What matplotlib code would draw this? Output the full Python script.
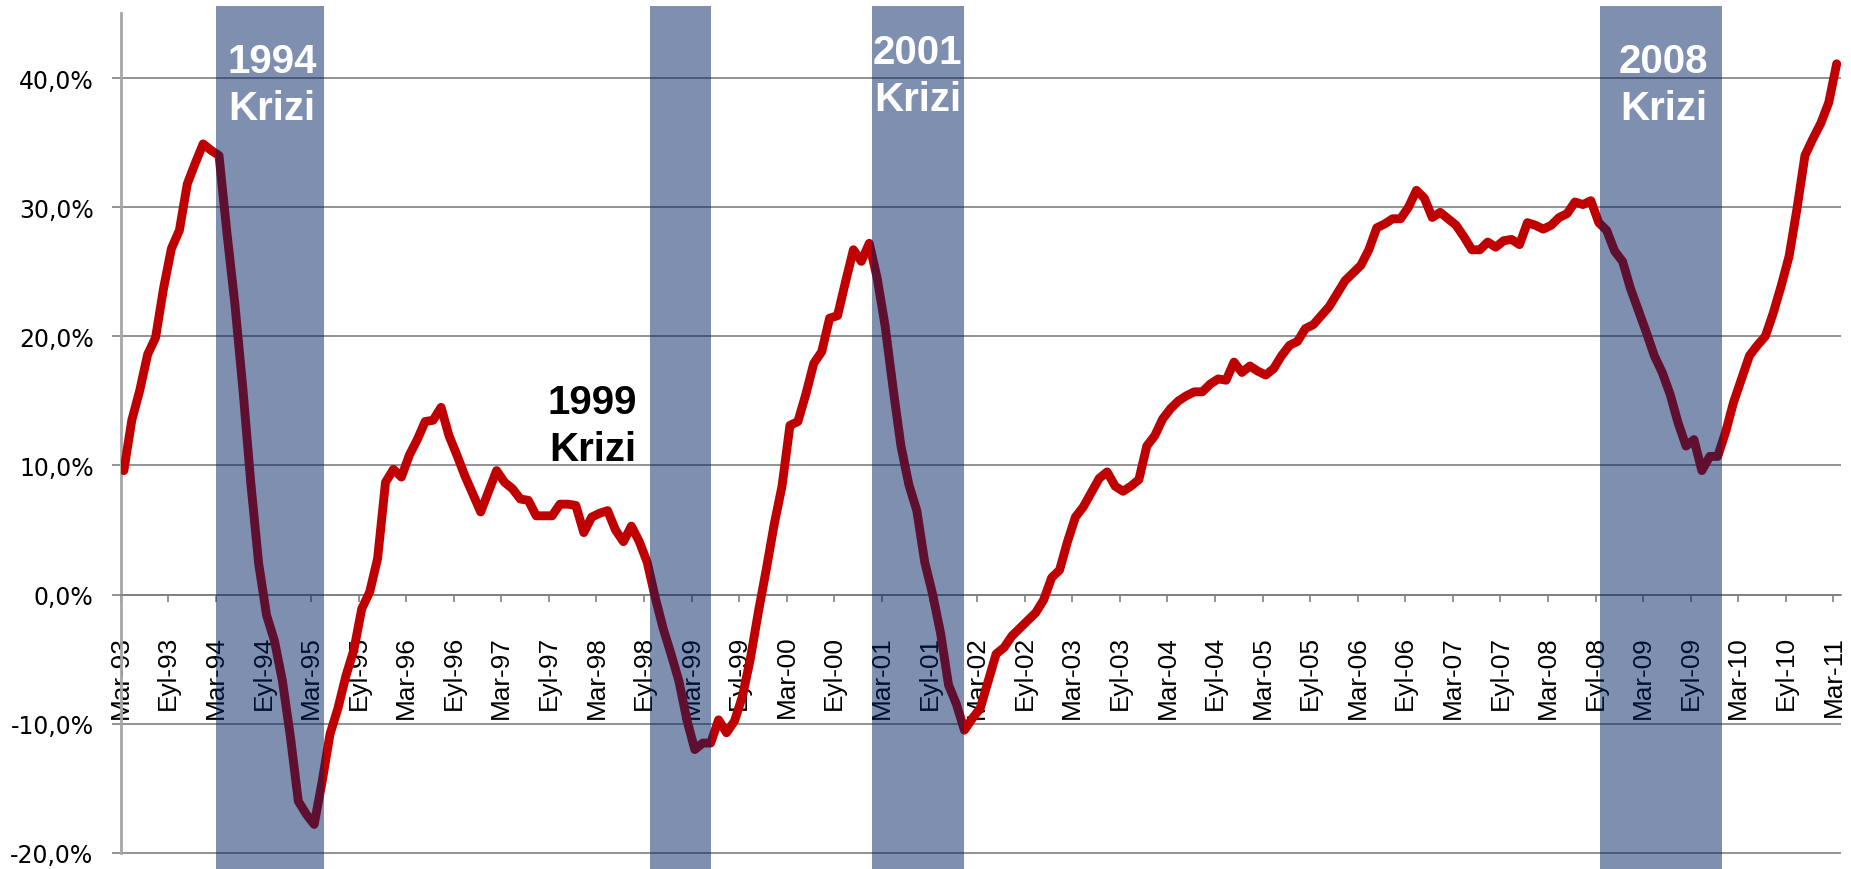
import numpy as np
import matplotlib
matplotlib.use("Agg")
import matplotlib.pyplot as plt
from matplotlib import font_manager
from matplotlib.font_manager import FontProperties
from matplotlib.textpath import TextPath
from matplotlib.ticker import FuncFormatter


# monthly growth (%), Mar-93 .. Mar-11
growth = [
    9.6, 13.5, 15.8, 18.6, 19.9, 23.7, 26.8, 28.2, 31.8, 33.4,
    34.9, 34.4, 34.0, 28.0, 22.5, 16.0, 8.7, 2.4, -1.6, -3.6,
    -6.7, -11.0, -16.0, -17.0, -17.8, -14.5, -10.8, -8.8, -6.3, -4.3,
    -1.1, 0.2, 2.8, 8.7, 9.7, 9.1, 10.8, 12.0, 13.4, 13.5,
    14.5, 12.3, 10.8, 9.2, 7.8, 6.4, 8.0, 9.6, 8.7, 8.2,
    7.4, 7.3, 6.1, 6.1, 6.1, 7.0, 7.0, 6.9, 4.8, 6.0,
    6.3, 6.5, 5.0, 4.1, 5.3, 4.1, 2.5, -0.2, -2.6, -4.6,
    -6.7, -9.7, -12.0, -11.5, -11.5, -9.7, -10.7, -9.8, -7.9, -5.0,
    -1.4, 1.9, 5.4, 8.4, 13.1, 13.4, 15.5, 17.9, 18.8, 21.4,
    21.6, 24.2, 26.7, 25.8, 27.2, 24.5, 20.8, 16.0, 11.5, 8.5,
    6.5, 2.5, 0.0, -3.0, -7.0, -8.5, -10.5, -9.6, -8.8, -6.7,
    -4.6, -4.1, -3.2, -2.6, -2.0, -1.4, -0.4, 1.3, 1.9, 4.1,
    6.0, 6.8, 7.9, 9.0, 9.5, 8.4, 8.0, 8.4, 8.9, 11.5,
    12.3, 13.6, 14.4, 15.0, 15.4, 15.7, 15.7, 16.3, 16.7, 16.6,
    18.0, 17.2, 17.7, 17.3, 17.0, 17.5, 18.5, 19.3, 19.6, 20.6,
    20.9, 21.6, 22.3, 23.3, 24.3, 24.9, 25.5, 26.7, 28.4, 28.7,
    29.1, 29.1, 30.0, 31.3, 30.7, 29.2, 29.6, 29.1, 28.6, 27.7,
    26.7, 26.7, 27.3, 26.9, 27.4, 27.5, 27.1, 28.8, 28.6, 28.3,
    28.6, 29.2, 29.5, 30.4, 30.2, 30.5, 28.8, 28.2, 26.6, 25.8,
    23.7, 22.0, 20.3, 18.5, 17.2, 15.5, 13.3, 11.5, 12.0, 9.6,
    10.7, 10.7, 12.6, 14.9, 16.7, 18.5, 19.3, 20.0, 21.8, 23.9,
    26.2, 29.9, 34.0, 35.3, 36.5, 38.1, 41.1,
]

# tick labels every 6 months (Mar / Eyl)
years = list(range(1993, 2012))
tick_labels = []
for y in years:
    tick_labels.append(f"Mar-{y % 100:02d}")
    if y < 2011:
        tick_labels.append(f"Eyl-{y % 100:02d}")

# crisis periods in months since Mar-93
crisis_names = ["1994\nKrizi", "1999\nKrizi", "2001\nKrizi", "2008\nKrizi"]
crisis_start = [12.0, 66.7, 94.75, 186.5]
crisis_end = [25.6, 74.5, 106.4, 202.0]
crisis_text_color = ["white", "black", "white", "white"]
crisis_text_pos = [(19.1, 42.8), (59.5, 16.4), (100.5, 43.5), (194.6, 42.8)]

names = {f.name for f in font_manager.fontManager.ttflist}
xfont = "Liberation Sans Narrow" if "Liberation Sans Narrow" in names else "Liberation Sans"

# size the x labels so "Mar-93" is about 80 px long, like the reference
tp = TextPath((0, 0), "Mar-93", size=100, prop=FontProperties(family=xfont))
xsize = 100 * 57.6 / tp.get_extents().width

fig = plt.figure(figsize=(18.51, 8.70), dpi=100)
ax = fig.add_axes([0.0652, 0.0, 0.9292, 0.9923])

x = np.arange(len(growth)) + 0.4
ax.plot(x, growth, color="#C00000", lw=6.4, solid_joinstyle="round",
        solid_capstyle="round", zorder=3)

for s, e in zip(crisis_start, crisis_end):
    ax.axvspan(s, e, color="#002060", alpha=0.5, lw=0, zorder=4)

for name, (tx, ty), c in zip(crisis_names, crisis_text_pos, crisis_text_color):
    ax.text(tx, ty, name, color=c, ha="center", va="top", fontsize=29,
            fontweight="bold", family="Liberation Sans", linespacing=1.32,
            zorder=5)

# spines first: moving a spine resets the tick labels
for side in ["top", "right"]:
    ax.spines[side].set_visible(False)
ax.spines["bottom"].set_position(("data", 0))
ax.spines["bottom"].set_color("#808080")
ax.spines["bottom"].set_linewidth(1.2)
ax.spines["left"].set_bounds(-20, 45)
ax.spines["left"].set_color("#a6a6a6")
ax.spines["left"].set_linewidth(2)

ax.set_xlim(0, 216.9)
ax.set_ylim(-21.25, 45.6)

ax.set_yticks(np.arange(-20, 41, 10))
ax.yaxis.set_major_formatter(FuncFormatter(lambda v, p: f"{v:.1f}%".replace(".", ",")))
ax.grid(axis="y", color="#808080", lw=1.2)

ax.set_xticks(np.arange(0, 217, 6))
ax.set_xticklabels(tick_labels, rotation=90, family=xfont, fontsize=xsize)

ax.tick_params(axis="x", direction="out", length=5, width=1.2,
               color="#808080", pad=24)
ax.tick_params(axis="y", direction="out", length=6.5, width=1.2,
               color="#808080", pad=13, labelsize=17)

fig.savefig("out.png", dpi=100)
